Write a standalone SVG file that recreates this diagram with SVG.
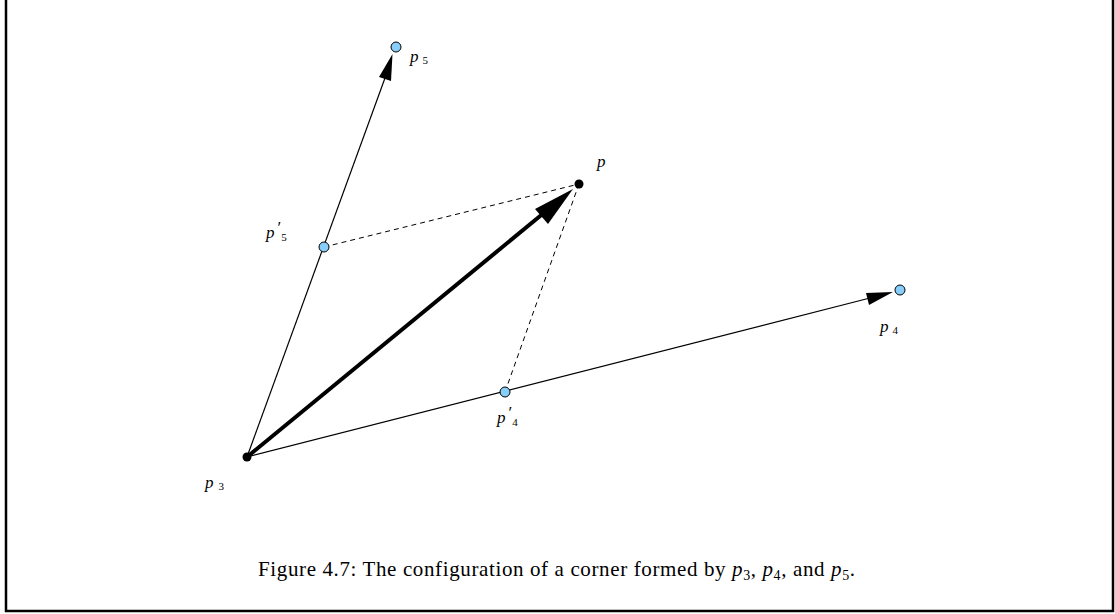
<svg xmlns="http://www.w3.org/2000/svg" width="1115" height="614" viewBox="0 0 1115 614">
<style>
.lbl{font-family:"Liberation Serif",serif;font-style:italic;font-size:17px;fill:#000}
.sub{font-style:normal;font-size:11px}
.prm{font-style:normal;font-size:17px}
.cap{font-family:"Liberation Serif",serif;font-size:21px;fill:#000}
.pt{fill:#87cefa;stroke:#000;stroke-width:1}
.blk{fill:#000}
.dash{stroke:#000;stroke-width:1;stroke-dasharray:5,4;fill:none}
</style>
<rect x="0" y="0" width="1115" height="614" fill="#fff"/>
<path d="M6 0 V611 H1113 V0" fill="none" stroke="#000" stroke-width="2.5"/>
<g id="connectors">
<line class="dash" x1="324" y1="247" x2="579" y2="184"/>
<line class="dash" x1="505" y1="392" x2="579" y2="184"/>
<line x1="247" y1="457" x2="385" y2="78" stroke="#000" stroke-width="1.2"/>
<polygon points="392.5,54 379,77 391,81" fill="#000"/>
<line x1="247" y1="457" x2="870" y2="298" stroke="#000" stroke-width="1.2"/>
<polygon points="893,292 866,293 869,305" fill="#000"/>
<line x1="247" y1="457" x2="545" y2="212" stroke="#000" stroke-width="4"/>
<polygon points="573,189 535,209 548,224" fill="#000"/>
</g>
<g id="p5"><circle class="pt" cx="396" cy="47" r="5"/><text class="lbl" x="410" y="62">p<tspan class="sub" dx="4" dy="2">5</tspan></text></g>
<g id="p5prime"><circle class="pt" cx="324" cy="247" r="5"/><text class="lbl" x="266" y="238">p<tspan class="prm" dx="3" dy="-5">′</tspan><tspan class="sub" dx="0" dy="8">5</tspan></text></g>
<g id="p"><circle class="blk" cx="579" cy="184" r="4.5"/><text class="lbl" x="597" y="167">p</text></g>
<g id="p4"><circle class="pt" cx="900" cy="290" r="5"/><text class="lbl" x="880" y="332">p<tspan class="sub" dx="4" dy="2">4</tspan></text></g>
<g id="p4prime"><circle class="pt" cx="505" cy="392" r="5"/><text class="lbl" x="497" y="423">p<tspan class="prm" dx="3" dy="-5">′</tspan><tspan class="sub" dx="0" dy="8">4</tspan></text></g>
<g id="p3"><circle class="blk" cx="247" cy="457" r="4.5"/><text class="lbl" x="205" y="488">p<tspan class="sub" dx="5" dy="2">3</tspan></text></g>
<text class="cap" x="258" y="576" textLength="597" lengthAdjust="spacing">Figure 4.7: The configuration of a corner formed by <tspan font-style="italic">p</tspan><tspan font-size="14" dy="4">3</tspan><tspan dy="-4">, </tspan><tspan font-style="italic">p</tspan><tspan font-size="14" dy="4">4</tspan><tspan dy="-4">, and </tspan><tspan font-style="italic">p</tspan><tspan font-size="14" dy="4">5</tspan><tspan dy="-4">.</tspan></text>
</svg>
